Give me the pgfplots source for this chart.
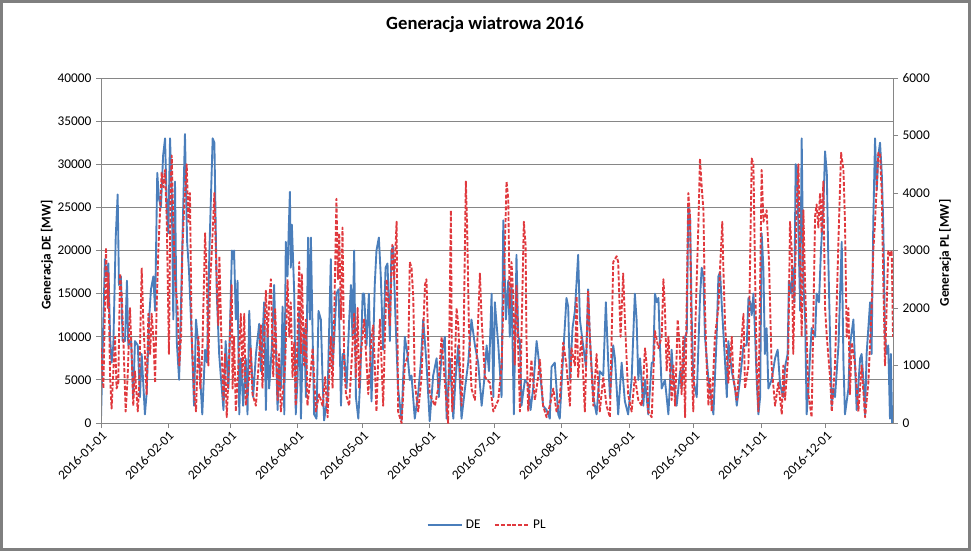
\documentclass[border=0pt]{standalone}
\usepackage{fontspec}
\setmainfont{Carlito}
\usepackage{pgfplots}
\pgfplotsset{compat=1.18}
\definecolor{deblue}{HTML}{4A7EBB}
\definecolor{plred}{HTML}{E0393E}
\definecolor{gridgray}{HTML}{868686}
\definecolor{framegray}{HTML}{7F7F7F}
\begin{document}
\begin{tikzpicture}
\useasboundingbox (0,0) rectangle (728.25pt,413.25pt);
\fill[white] (0,0) rectangle (728.25pt,413.25pt);
\draw[framegray, line width=2.25pt] (1.125pt,1.125pt) rectangle (727.125pt,412.125pt);
\node[font=\fontsize{14}{16}\selectfont\bfseries] at (363.75pt,394.5pt) {Generacja wiatrowa 2016};
\node[rotate=90, font=\fontsize{10}{12}\selectfont\bfseries] at (35.25pt,222pt) {Generacja DE [MW]};
\node[rotate=90, font=\fontsize{10}{12}\selectfont\bfseries] at (708.75pt,223.5pt) {Generacja PL [MW]};
\pgfplotsset{base/.style={scale only axis, width=594pt, height=258.75pt,
  at={(75.75pt,96pt)}, anchor=south west, xmin=0, xmax=366,
  tick align=outside, major tick length=3.75pt,
  axis line style={gridgray, line width=0.75pt},
  tick style={gridgray, line width=0.75pt},
  ticklabel style={font=\fontsize{10}{12}\selectfont},
  /pgf/number format/assume math mode=true, scaled y ticks=false,
  /pgf/number format/1000 sep={}}}
\begin{axis}[base, ymin=0, ymax=40000, ytick distance=5000, ytick pos=left, xtick pos=bottom,
  xtick={0,31,60,91,121,152,182,213,244,274,305,335},
  xticklabels={2016-01-01,2016-02-01,2016-03-01,2016-04-01,2016-05-01,2016-06-01,2016-07-01,2016-08-01,2016-09-01,2016-10-01,2016-11-01,2016-12-01},
  x tick label style={rotate=45, anchor=north east, inner sep=1pt},
  ymajorgrids, grid style={gridgray, line width=0.75pt}]
\addplot[deblue, line width=1.4pt, line join=round] coordinates {
(0,500) (1.1,12000) (1.8,19000) (2.6,17000) (3.4,18500) (4.2,10000) (4.9,7000) (5.7,9000) (6.8,21500) (7.7,26500) (8.3,16000) (9.2,17000) (10.0,9500) (11.1,9500) (12.0,16500) (12.6,9000) (13.9,9500) (14.9,3000) (15.7,9500) (17.0,9000) (18.0,3000) (18.8,8000) (20.3,1000) (21.1,3500) (22.2,12000) (23.1,15500) (24.2,17000) (25.0,13000) (26.0,29000) (26.8,26000) (27.7,25000) (28.7,31000) (29.6,33000) (30.4,25000) (31.1,22000) (31.9,33000) (32.7,27000) (33.4,12000) (34.2,28000) (35.0,9500) (36.1,5000) (37.0,14000) (37.8,23000) (38.8,33500) (39.8,21000) (40.7,17500) (41.9,10000) (43.0,2000) (43.9,12000) (45.0,9000) (45.9,5000) (46.8,1000) (48.1,8500) (49.0,7000) (50.1,20000) (50.9,27000) (51.6,33000) (52.4,32500) (53.5,15000) (54.6,8000) (55.5,5000) (56.6,1500) (57.6,9500) (58.9,4000)
(60.5,20000) (61.1,19000) (61.5,20000) (62.3,12000) (63.1,16500) (63.9,1000) (64.6,7500) (65.7,2000) (66.9,7500) (67.7,1000) (68.5,13000) (69.2,8500) (70.3,3000) (71.6,8000) (73.1,11500) (73.9,6000) (75.4,14000) (76.2,1500) (77.0,11000) (77.7,4000) (79.0,9000) (80.0,16000) (80.8,9000) (81.6,1500) (82.3,6500) (83.1,4000) (83.9,13500) (84.7,1000) (85.4,21000) (86.2,17000) (86.7,22000) (87.3,26800) (87.7,18000) (88.2,23000) (89.3,15000) (90.0,1000) (90.8,5000) (91.6,13000) (92.4,500) (93.1,8000) (93.9,11000) (94.7,3000) (95.7,21500) (96.5,12000) (97.0,21500) (97.8,10000) (98.5,1000) (99.6,500) (100.5,13000) (101.6,12000) (102.4,5000) (103.1,300) (104.7,3000) (106.2,19000) (107.0,6500) (107.8,10000) (108.8,15000) (109.8,15500) (110.9,2000) (111.6,8000) (112.4,8000) (113.5,4000) (114.7,12000) (115.5,16000) (116.2,10000) (117.0,20000) (117.8,3000) (118.9,500) (119.8,5000) (120.9,15000) (121.6,15000)
(122.7,9000) (123.8,15000) (125.0,2500) (125.8,9000) (126.5,16000) (127.3,20000) (128.4,21500) (129.3,17000) (130.4,8500) (131.5,18000) (132.4,18500) (133.5,9500) (134.2,20000) (135.0,20500) (136.1,12000) (137.3,4000) (138.9,300) (139.6,5000) (140.4,10000) (141.6,8000) (142.7,5000) (143.5,5500) (145.0,500) (146.6,3500) (147.8,7000) (148.9,12000) (150.4,7000) (151.9,200) (153.5,5500) (155.1,7500) (156.1,3000) (157.4,8000) (158.9,10000) (159.7,500) (161.2,7500) (162.8,500) (163.8,5000) (165.1,9000) (166.6,500) (168.2,4000) (169.7,7000) (171.2,12000) (172.8,9000) (174.3,7000) (175.9,2000) (177.1,5000) (178.2,9000) (179.3,6000) (180.5,15000) (181.3,3000) (182.0,14000) (183.6,9000) (185.1,3000) (185.9,23500)
(187.1,12000) (188.2,16500) (188.9,10000) (189.7,16000) (190.8,1000) (192.0,19500) (192.8,10000) (193.6,9500) (194.3,2000) (195.9,5000) (197.4,4500) (198.5,1500) (199.7,4000) (201.3,9500) (202.0,8000) (203.6,4000) (204.3,2000) (205.9,1500) (207.4,500) (208.2,6500) (209.7,7000) (211.3,1000) (212.0,500) (213.6,8000) (215.1,14500) (215.9,13500) (216.7,5000) (217.9,11000) (219.0,13000) (220.5,19500) (221.3,12000) (222.8,9000) (224.1,6500) (225.1,15500) (225.9,10000) (227.5,3000) (229.0,1000) (230.5,6000) (232.1,5500) (233.3,14000) (234.4,7000) (235.2,3000) (236.7,9000) (237.5,7500) (239.0,1000) (240.6,7000) (242.1,2500) (243.6,1000) (245.2,5000) (246.7,15000)
(247.5,12000) (248.3,5000) (249.1,7500) (250.6,2000) (251.4,5000) (252.9,1000) (254.5,7000) (255.2,7000) (256.0,15000) (256.8,14000) (257.6,14500) (258.3,9000) (259.1,4000) (260.6,5000) (262.2,1000) (263.7,8500) (264.5,5000) (266.0,2000) (267.6,6000) (268.3,4000) (269.9,10000) (270.7,10500) (271.4,25000) (272.2,24000) (273.0,12000) (273.7,5000) (275.3,3000) (276.8,14500) (277.6,18000) (278.4,17000) (279.1,10000) (280.7,5000) (281.9,3000) (283.0,1000) (284.5,10000) (285.3,17000) (286.1,17500) (286.8,14000) (288.4,7000) (289.2,3000) (289.9,9500) (291.5,6000) (293.0,4000) (293.8,2000) (295.3,5000) (296.9,9000) (298.4,9000) (299.2,14500) (300.0,14000) (300.7,12500) (301.5,15000) (302.3,10000) (303.0,5000) (303.8,1000) (304.6,3000) (305.3,22000) (306.1,18000)
(306.8,8000) (307.6,11000) (308.4,4000) (309.9,5000) (311.5,7500) (312.7,8500) (313.8,4500) (315.3,3000) (316.1,6500) (317.3,8000) (317.9,16500) (318.9,15000) (319.5,18000) (320.4,14000) (321.0,30000) (321.8,29500) (322.3,22000) (323.1,13000) (323.8,33000) (324.6,16000) (325.4,12000) (326.1,1000) (326.9,4000) (327.7,8000) (328.4,11000) (330.0,10000) (330.7,15000) (331.8,14000) (332.7,20000) (333.8,25000) (334.6,31500) (335.4,29000) (336.1,19000) (336.9,10000) (337.7,2000) (338.4,4000) (339.2,3000) (340.8,9000) (342.3,21000) (343.1,7000) (343.8,1000) (345.4,4000) (346.1,9000) (347.7,12000) (349.2,1500) (350.8,7500) (351.5,8000) (352.3,5000) (353.1,1000) (353.8,8000) (355.4,14000) (356.1,8000) (356.9,23500) (357.7,33000) (358.5,27000) (359.2,31000) (360.0,32500) (360.8,29000) (361.5,23000) (362.3,10000) (363.1,8000) (363.8,9000) (364.6,500) (365.0,8000) (365.6,0)
};
\end{axis}
\begin{axis}[base, ymin=0, ymax=6000, ytick distance=1000, ytick pos=right, xtick=\empty,
  legend style={at={(0.488,-0.296)}, anchor=center, draw=none, fill=none, legend columns=2,
    font=\fontsize{10}{12}\selectfont, /tikz/every even column/.append style={column sep=8pt}},
  legend image code/.code={\draw[#1] (0pt,0pt) -- (26pt,0pt);}]
\addlegendimage{deblue, line width=1.4pt}
\addlegendentry{DE}
\addplot[plred, line width=1.4pt, line join=round, dash pattern=on 3pt off 1.4pt] coordinates {
(0,1300) (1.1,600) (1.8,2000) (2.3,3050) (3.1,2000) (3.4,2600) (4.2,800) (4.9,250) (5.7,900) (6.5,1500) (7.2,600) (8.0,700) (8.8,2600) (9.6,2200) (10.3,1500) (11.4,200) (12.3,800) (13.4,2000) (14.2,1200) (14.9,300) (15.7,900) (17.0,200) (17.7,700) (18.8,2700) (19.6,1700) (20.3,1200) (21.1,500) (21.9,1900) (22.7,1200) (23.4,1900) (24.2,1500) (25.0,700) (25.7,2000) (26.5,3000) (27.3,3700) (28.0,4360) (28.8,4100) (29.6,4400) (30.4,3500) (31.4,1200) (32.1,4000) (32.7,4650) (33.4,3500) (34.2,2500) (35.4,2000) (36.2,1000) (37.0,1500) (37.6,3000) (38.5,3800) (39.6,4500) (40.4,3500) (41.1,4000) (41.9,1500) (43.1,500) (43.9,200) (45.0,1500) (45.9,600) (46.8,1200) (48.1,3300) (48.9,2500) (49.6,1000) (50.4,2400) (51.2,3000) (51.9,3550) (52.4,4000) (53.2,2800) (54.2,1700) (54.7,2900) (55.8,1200) (56.6,400) (57.3,1200) (58.1,100) (58.9,800) (60.4,2400)
(60.8,600) (61.5,1500) (62.3,200) (63.5,1000) (64.6,1900) (65.4,800) (66.2,1900) (66.9,300) (68.5,800) (69.2,1300) (70.0,500) (71.6,300) (72.8,1000) (73.9,1700) (74.6,600) (76.2,2300) (77.0,1500) (77.7,2100) (78.5,2500) (79.6,800) (80.5,2000) (81.6,400) (82.3,1200) (83.1,200) (84.2,600) (85.1,1000) (86.2,2500) (87.0,1500) (87.7,2100) (88.5,800) (89.3,1400) (90.0,300) (90.8,1500) (91.6,2800) (92.4,1200) (92.8,2600) (93.9,1000) (94.7,1800) (95.4,300) (96.5,700) (97.8,1300) (99.3,200) (100.8,500) (102.4,300) (103.6,800) (104.7,100) (106.2,1500) (107.0,600) (107.8,1900) (108.8,3900) (109.5,2500) (110.1,3300) (110.9,1800) (111.6,3400) (112.4,1000) (113.2,500) (114.7,300) (116.0,1200) (117.0,1900) (117.8,800) (118.6,2000) (119.3,600) (120.1,1200) (121.6,1800)
(123.5,500) (125.0,1500) (125.8,1700) (127.3,200) (128.1,1100) (128.9,1800) (130.4,300) (131.2,1500) (132.0,2500) (133.5,1700) (134.6,3100) (135.5,2500) (136.6,3500) (137.3,200) (138.9,0) (140.4,1000) (142.0,1200) (142.7,2800) (143.5,2700) (144.3,2200) (145.0,700) (146.6,200) (148.1,800) (149.7,2400) (150.4,2500) (151.9,500) (154.3,300) (155.8,600) (157.4,1500) (158.9,700) (160.4,0) (161.7,3700) (162.3,200) (163.5,1000) (164.3,2000) (165.1,1700) (166.6,300) (167.4,1000) (168.6,4200) (169.2,3400) (170.0,1700) (171.2,600) (172.8,400) (174.0,1500) (175.1,2600) (175.9,1800) (177.4,800) (179.7,700) (181.3,200) (183.6,400) (185.1,1000)
(186.2,2400) (187.4,4200) (188.2,3900) (188.9,2000) (189.7,2800) (190.5,2200) (191.2,1000) (192.0,2400) (192.8,1300) (193.6,200) (194.3,1500) (195.4,3500) (196.2,3100) (196.6,1500) (197.4,200) (198.9,1100) (200.5,400) (202.0,800) (202.8,1100) (204.3,300) (205.9,100) (207.4,300) (209.0,600) (210.5,200) (212.0,400) (213.6,1400) (215.1,1000) (216.7,300) (217.4,1300) (219.0,1000) (219.8,2200) (220.5,800) (222.0,1500) (223.6,200) (225.1,2300) (225.9,1500) (227.5,300) (229.0,1200) (230.5,200) (232.1,800) (233.6,300) (235.2,100) (236.7,2800) (238.3,2900) (239.0,2800) (240.1,1500) (241.3,2600) (242.1,1800) (243.6,500) (245.2,200) (246.7,800)
(248.3,400) (249.9,300) (251.4,1300) (252.2,1000) (252.9,200) (254.5,100) (256.0,1600) (257.6,1300) (259.1,1500) (259.9,2500) (260.6,2000) (261.4,900) (262.2,1500) (263.7,400) (264.5,1000) (265.3,300) (266.5,1800) (267.3,1400) (268.3,500) (269.1,1500) (269.9,100) (271.4,4000) (272.2,3600) (273.0,1000) (273.7,200) (274.5,1500) (276.1,3500) (276.8,4600) (277.6,4100) (278.4,3700) (279.1,2000) (279.9,1000) (280.7,300) (281.4,800) (282.2,200) (283.7,1500) (285.3,2000) (286.1,2700) (287.1,3500) (287.6,2700) (288.4,1700) (289.2,1200) (289.9,700) (291.5,1500) (292.2,800) (293.8,400) (295.3,1100) (296.9,1900) (297.6,600) (299.2,1000) (300.7,4600) (301.5,4500) (302.3,2500) (303.0,1000) (303.8,200) (305.3,4400) (306.1,3500)
(307.6,3700) (308.7,2800) (309.9,1000) (311.5,300) (313.0,700) (314.6,150) (315.3,1000) (316.1,400) (317.6,1200) (318.4,3500) (319.2,3000) (319.9,1200) (321.5,3800) (322.3,4500) (323.0,3000) (323.8,1500) (324.6,3700) (325.3,2500) (326.9,500) (328.4,100) (330.0,3600) (330.7,3800) (331.5,3400) (332.3,4000) (333.0,3300) (333.8,4200) (334.6,2000) (335.4,1500) (336.9,800) (337.7,200) (339.2,1000) (340.8,3200) (342.0,4700) (343.1,4400) (343.8,3500) (344.6,1500) (345.4,2000) (346.1,500) (346.9,1400) (348.5,1000) (350.0,200) (351.5,1000) (353.1,100) (354.6,700) (356.1,2000) (356.9,3000) (357.7,3500) (359.2,4700) (360.0,4700) (360.8,4000) (361.5,2500) (362.3,1000) (363.8,3000) (364.6,2900) (365.4,3000) (366,1500)
};
\addlegendentry{PL}
\end{axis}
\end{tikzpicture}
\end{document}
